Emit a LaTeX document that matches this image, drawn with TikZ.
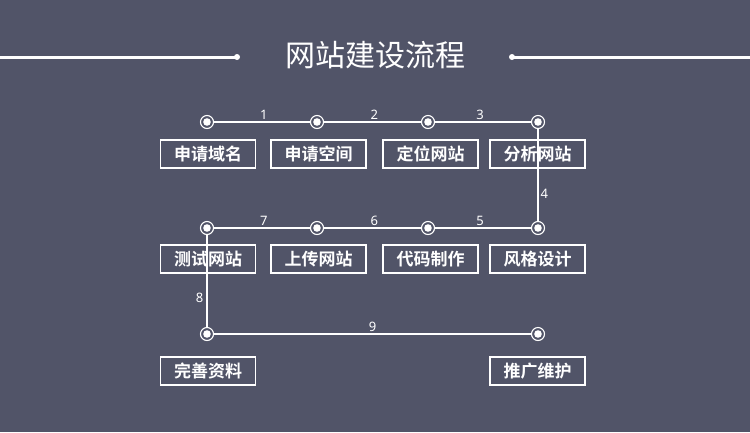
\documentclass[tikz,border=0pt]{standalone}
\usepackage{fontspec}
\newfontfamily\cjk{Noto Sans CJK SC}
\newfontfamily\cjkbold{Noto Sans CJK SC Bold}
\setmainfont{Noto Sans}
\definecolor{bgslate}{RGB}{81,84,104}

\begin{document}
\begin{tikzpicture}[x=1pt, y=-1pt,
    stepdot/.style={circle, draw=white, fill=bgslate, line width=1.1pt,
      minimum size=13pt, inner sep=0pt,
      path picture={\fill[white] (path picture bounding box.center) circle (3.8pt);}},
    stepbox/.style={draw=white, line width=1.5pt, minimum width=95pt,
      minimum height=28pt, inner sep=0pt, text=white,
      font=\cjkbold\fontsize{17pt}{18pt}\selectfont},
    stepnum/.style={text=white, font=\fontsize{13pt}{14pt}\selectfont, inner sep=1pt},
    link/.style={draw=white, line width=1.2pt}]
  \fill[bgslate] (0, 0) rectangle (750, 432);
  \useasboundingbox (0, 0) rectangle (750, 432);

  % title
  \node[text=white, font=\cjk\fontsize{30pt}{32pt}\selectfont] (title) at (375, 55) {网站建设流程};
  \coordinate (tl) at (0, 57);
  \coordinate (tle) at (237, 57);
  \coordinate (tr) at (750, 57);
  \coordinate (tre) at (512, 57);
  \draw[white, line width=3pt] (tl) -- (tle);
  \draw[white, line width=3pt] (tre) -- (tr);
  \fill[white] (tle) circle (3pt) (tre) circle (3pt);

  % dots
  \node[stepdot] (a1) at (207, 122) {};
  \node[stepdot] (a2) at (317, 122) {};
  \node[stepdot] (a3) at (428, 122) {};
  \node[stepdot] (a4) at (538, 122) {};
  \node[stepdot] (b1) at (207, 228) {};
  \node[stepdot] (b2) at (317, 228) {};
  \node[stepdot] (b3) at (428, 228) {};
  \node[stepdot] (b4) at (538, 228) {};
  \node[stepdot] (d1) at (207, 334) {};
  \node[stepdot] (d4) at (538, 334) {};

  % boxes
  \node[stepbox] (domain) at (208, 154) {申请域名};
  \node[stepbox] (space) at (318.5, 154) {申请空间};
  \node[stepbox] (locate) at (430.5, 154) {定位网站};
  \node[stepbox] (analyse) at (537.5, 154) {分析网站};
  \node[stepbox] (test) at (208, 259) {测试网站};
  \node[stepbox] (upload) at (318.5, 259) {上传网站};
  \node[stepbox] (coding) at (430.5, 259) {代码制作};
  \node[stepbox] (style) at (537.5, 259) {风格设计};
  \node[stepbox] (info) at (208, 371) {完善资料};
  \node[stepbox] (promote) at (537.5, 371) {推广维护};

  % links
  \path[link] (a1) -- node[stepnum, pos=0.52, above=1pt] {1} (a2);
  \path[link] (a2) -- node[stepnum, pos=0.52, above=1pt] {2} (a3);
  \path[link] (a3) -- node[stepnum, pos=0.47, above=1pt] {3} (a4);
  \path[link] (a4) -- node[stepnum, pos=0.7, right=1pt] {4} (b4);
  \path[link] (b4) -- node[stepnum, pos=0.53, above=1pt] {5} (b3);
  \path[link] (b3) -- node[stepnum, pos=0.48, above=1pt] {6} (b2);
  \path[link] (b2) -- node[stepnum, pos=0.48, above=1pt] {7} (b1);
  \path[link] (b1) -- node[stepnum, pos=0.68, left=2pt] {8} (d1);
  \path[link] (d1) -- node[stepnum, pos=0.5, above=1pt] {9} (d4);
\end{tikzpicture}
\end{document}
